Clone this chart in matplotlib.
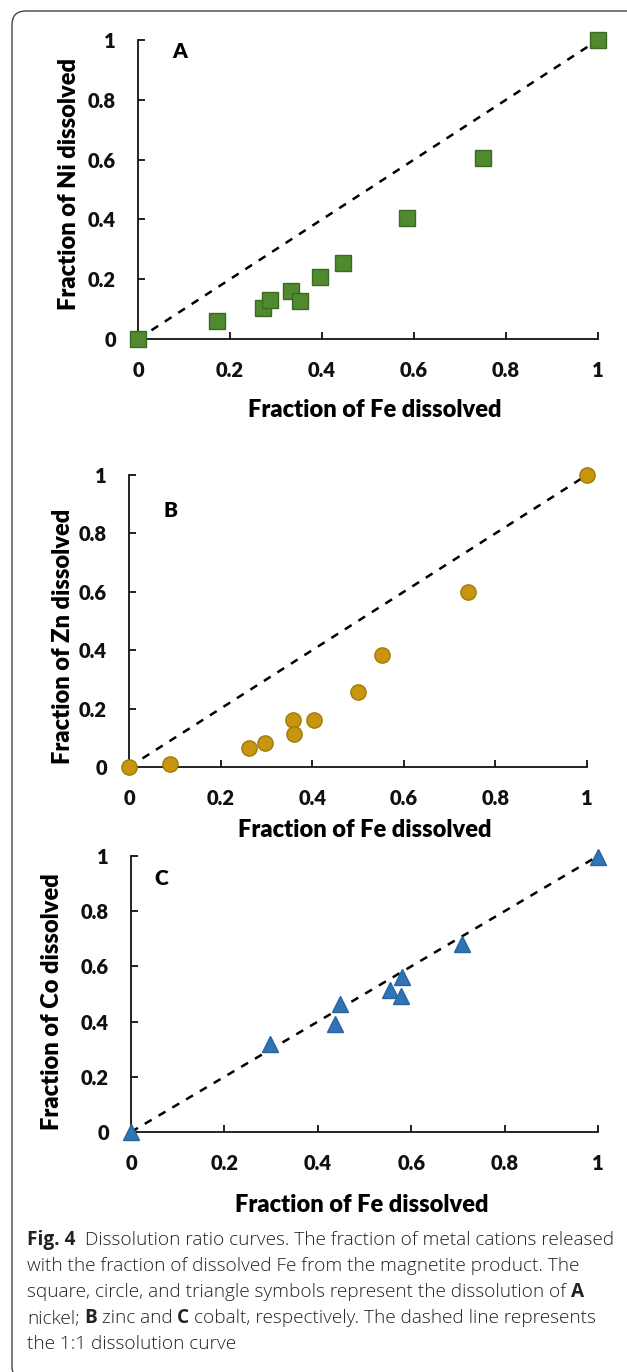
import matplotlib
matplotlib.use('Agg')
import matplotlib.pyplot as plt
from matplotlib.patches import FancyBboxPatch

# Panel A: Ni vs Fe
fe_ni = [0.0, 0.171, 0.271, 0.287, 0.332, 0.352, 0.395, 0.446, 0.585, 0.750, 1.0]
ni = [0.0, 0.061, 0.105, 0.131, 0.159, 0.128, 0.208, 0.255, 0.405, 0.607, 1.0]

# Panel B: Zn vs Fe
fe_zn = [0.0, 0.089, 0.261, 0.297, 0.357, 0.360, 0.403, 0.501, 0.552, 0.741, 1.0]
zn = [0.0, 0.011, 0.066, 0.082, 0.162, 0.114, 0.162, 0.257, 0.382, 0.598, 1.0]

# Panel C: Co vs Fe
fe_co = [0.0, 0.297, 0.437, 0.447, 0.554, 0.578, 0.580, 0.709, 1.0]
co = [0.0, 0.318, 0.393, 0.465, 0.513, 0.492, 0.562, 0.680, 0.997]

ticks = [0, 0.2, 0.4, 0.6, 0.8, 1]
tick_labels = ['0', '0.2', '0.4', '0.6', '0.8', '1']

W, H = 627, 1372
fig = plt.figure(figsize=(W / 100, H / 100), dpi=100)

lab_font = 'Lato'

def px(x0, y0, x1, y1):
    # pixel box (top-left origin) -> figure fraction rect
    return [x0 / W, 1 - y1 / H, (x1 - x0) / W, (y1 - y0) / H]

panels = [
    dict(rect=px(138, 40, 598, 339), x=fe_ni, y=ni, marker='s', ms=11,
         fc='#4f8a2f', ec='#3b6a22', ylab='Fraction of Ni dissolved', tag='A',
         tagpos=(0.074, 0.96), xlab_xy=(375, 410), ylab_xy=(69, 184)),
    dict(rect=px(129, 475, 587, 767), x=fe_zn, y=zn, marker='o', ms=11,
         fc='#c8960e', ec='#a27a0a', ylab='Fraction of Zn dissolved', tag='B',
         tagpos=(0.076, 0.88), xlab_xy=(365, 830), ylab_xy=(63, 636)),
    dict(rect=px(131, 856, 598, 1132), x=fe_co, y=co, marker='^', ms=11,
         fc='#2f75b5', ec='#28649e', ylab='Fraction of Co dissolved', tag='C',
         tagpos=(0.049, 0.92), xlab_xy=(362, 1205), ylab_xy=(52, 1002)),
]

for p in panels:
    ax = fig.add_axes(p['rect'])
    ax.plot([0, 1], [0, 1], color='black', lw=1.8, ls=(0, (3.2, 3.2)), zorder=2)
    ax.plot(p['x'], p['y'], ls='none', marker=p['marker'], ms=p['ms'],
            mfc=p['fc'], mec=p['ec'], mew=1.0, clip_on=False, zorder=3)
    ax.set_xlim(0, 1)
    ax.set_ylim(0, 1)
    for s in ['top', 'right']:
        ax.spines[s].set_visible(False)
    for s in ['left', 'bottom']:
        ax.spines[s].set_linewidth(1.3)
        ax.spines[s].set_color('#111111')
    ax.set_xticks(ticks)
    ax.set_yticks(ticks)
    ax.set_xticklabels(tick_labels)
    ax.set_yticklabels(tick_labels)
    ax.tick_params(direction='in', length=5, width=1.3, labelsize=14.5, pad=16,
                   colors='#111111')
    for t in ax.get_xticklabels() + ax.get_yticklabels():
        t.set_fontfamily(lab_font)
        t.set_fontweight('heavy')
    ax.text(p['tagpos'][0], p['tagpos'][1], p['tag'], transform=ax.transAxes,
            fontsize=15, fontweight='heavy', family=lab_font, ha='left', va='center')
    fig.text(p['xlab_xy'][0] / W, 1 - p['xlab_xy'][1] / H, 'Fraction of Fe dissolved',
             fontsize=17, fontweight='heavy', family=lab_font, ha='center', va='center')
    fig.text(p['ylab_xy'][0] / W, 1 - p['ylab_xy'][1] / H, p['ylab'], rotation=90,
             fontsize=17, fontweight='heavy', family=lab_font, ha='center', va='center')

# rounded outer frame
frame = FancyBboxPatch((12 / W, 1 - 1380 / H), (660 - 12) / W, (1380 - 11) / H,
                       boxstyle='round,pad=0,rounding_size=0.022',
                       transform=fig.transFigure, fill=False, ec='#444444', lw=1.0,
                       mutation_aspect=W / H)
fig.patches.append(frame)

# caption with mixed bold segments
cap_font = 'Open Sans'
cap_size = 13.7
caption = [
    [('Fig. 4', 'bold'), ('  ', None), ('Dissolution ratio curves. The fraction of metal cations released', 'light')],
    [('with the fraction of dissolved Fe from the magnetite product. The', 'light')],
    [('square, circle, and triangle symbols represent the dissolution of', 'light'), (' ', None), ('A', 'bold')],
    [('nickel;', 'light'), (' ', None), ('B', 'bold'), (' ', None), ('zinc and', 'light'), (' ', None),
     ('C', 'bold'), (' ', None), ('cobalt, respectively. The dashed line represents', 'light')],
    [('the 1:1 dissolution curve', 'light')],
]
renderer = fig.canvas.get_renderer()
space = cap_size * 0.24 * 100 / 72
y = 1240
for line in caption:
    x = 27
    for s, wt in line:
        if wt is None:
            x += space * len(s)
            continue
        t = fig.text(x / W, 1 - y / H, s, fontsize=cap_size, family=cap_font,
                     fontweight=wt, color='#222222', ha='left', va='center')
        bb = t.get_window_extent(renderer)
        x = bb.x1
    y += 26

fig.savefig('out.png', dpi=100)
